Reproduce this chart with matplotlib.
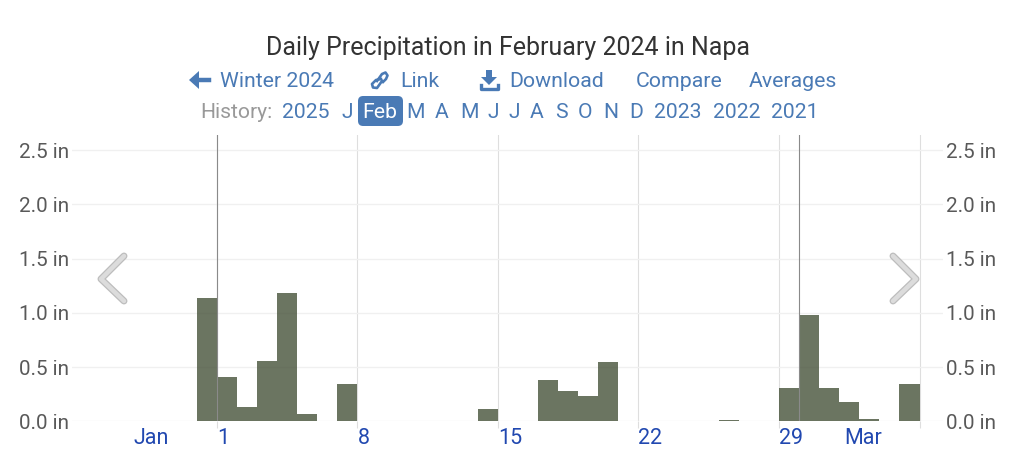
import matplotlib
matplotlib.use('Agg')
import matplotlib.pyplot as plt
from matplotlib.lines import Line2D
from matplotlib.patches import FancyBboxPatch, Polygon

plt.rcParams['font.family'] = ['Roboto', 'DejaVu Sans']

W, H = 1024, 467

# bar start (in day ticks) and precipitation in inches
starts = [0, 1, 2, 3, 4, 5, 7, 14, 17, 18, 19, 20, 26, 29, 30, 31, 32, 33, 35]
precip = [1.14, 0.41, 0.13, 0.56, 1.18, 0.07, 0.34, 0.11, 0.38, 0.28, 0.23, 0.55,
          0.01, 0.31, 0.98, 0.31, 0.18, 0.02, 0.34]

day_ticks = [1, 8, 15, 22, 29, 36]
day_labels = ['1', '8', '15', '22', '29', '']
month_names = ['Jan', 'Mar']
month_pos = [-2.3, 33.2]
month_starts = [1, 30]
y_ticks = [0.0, 0.5, 1.0, 1.5, 2.0, 2.5]
y_labels = ['0.0 in', '0.5 in', '1.0 in', '1.5 in', '2.0 in', '2.5 in']

history = ['2025', 'J', 'Feb', 'M', 'A', 'M', 'J', 'J', 'A', 'S', 'O', 'N', 'D', '2023', '2022', '2021']
history_x = [306, 347, 380, 416, 442, 469, 493, 514, 537, 561, 585, 611, 636, 678, 737, 795]
links = ['Winter 2024', 'Link', 'Download', 'Compare', 'Averages']
links_x = [220, 400, 509, 636, 749]

blue = '#4a7ab5'
txt_gray = '#595959'


def px(x, y):
    return x / W, 1 - y / H


fig = plt.figure(figsize=(W / 100, H / 100), dpi=100)
ax = fig.add_axes([72 / W, 1 - 421.3 / H, 871 / W, 286.3 / H])
ax.set_xlim(-6.22, 37.17)
ax.set_ylim(0, 2.639)

ax.bar(starts, precip, width=1, align='edge', color='#465239', alpha=0.8, linewidth=0, zorder=3)

ax.set_yticks(y_ticks)
ax.set_yticklabels(y_labels)
ax.set_xticks(day_ticks)
ax.set_xticklabels(day_labels, ha='left')
ax.grid(axis='y', color='#f0f0f0', linewidth=1, zorder=0)
ax.grid(axis='x', color='#dedede', linewidth=0.8, zorder=1)
ax.tick_params(axis='y', length=0, pad=2, labelsize=14.9, labelcolor=txt_gray)
ax.tick_params(axis='x', length=5, width=0.8, color='#dedede', pad=0, labelsize=15.5, labelcolor='#2148b0')
for side in ax.spines:
    ax.spines[side].set_visible(False)

# second y axis labels on the right
ax2 = ax.twinx()
ax2.set_ylim(ax.get_ylim())
ax2.set_yticks(y_ticks)
ax2.set_yticklabels(y_labels)
ax2.tick_params(axis='y', length=0, pad=2, labelsize=14.9, labelcolor=txt_gray)
for side in ax2.spines:
    ax2.spines[side].set_visible(False)

# month boundaries are darker
for m in month_starts:
    ax.axvline(m, color='#8a8a8a', linewidth=0.8, zorder=4)

for name, m in zip(month_names, month_pos):
    ax.annotate(name, (m, 0), xytext=(0, -5), textcoords='offset points', color='#2148b0',
                fontsize=15.5, ha='center', va='top')

# header text
fig.text(*px(508.5, 48), 'Daily Precipitation in February 2024 in Napa', color='#333333',
         fontsize=18, ha='center', va='center')
for s, x in zip(links, links_x):
    fig.text(*px(x, 81.5), s, color=blue, fontsize=15.3, ha='left', va='center')

fig.text(*px(272, 112), 'History:', color='#999999', fontsize=15.2, ha='right', va='center')
fig.add_artist(FancyBboxPatch(px(358, 126), 45 / W, 30 / H, boxstyle='round,pad=0,rounding_size=0.005',
                              transform=fig.transFigure, facecolor=blue, edgecolor='none',
                              mutation_aspect=W / H))
for s, x in zip(history, history_x):
    col = 'white' if s == 'Feb' else blue
    fig.text(*px(x, 112), s, color=col, fontsize=15.2, ha='center', va='center')

# back arrow
fig.add_artist(Line2D(*zip(px(195, 80), px(209, 80)), color=blue, lw=3.2, transform=fig.transFigure))
fig.add_artist(Polygon([px(189, 80), px(199, 71), px(199, 89)], transform=fig.transFigure, color=blue, lw=0))
# link icon
fig.add_artist(Line2D(*zip(px(377, 81), px(382, 74), px(385.5, 72.5), px(387.5, 75.5), px(386, 79), px(383, 82)),
                      color=blue, lw=1.9, transform=fig.transFigure))
fig.add_artist(Line2D(*zip(px(381, 79), px(376, 80), px(372, 84), px(373, 87.5), px(377, 88), px(382, 81)),
                      color=blue, lw=1.9, transform=fig.transFigure))
# download icon
fig.add_artist(Polygon([px(486, 70), px(492, 70), px(492, 77), px(497, 77), px(489, 85), px(481, 77), px(486, 77)],
                       transform=fig.transFigure, color=blue, lw=0))
fig.add_artist(Line2D(*zip(px(481, 85), px(481, 89), px(498, 89), px(498, 85)), color=blue, lw=2.4,
                      transform=fig.transFigure))

# chevrons
for pts in ([(124, 256), (101, 279), (124, 301)], [(893, 256), (916, 279), (893, 301)]):
    xy = [px(*p) for p in pts]
    fig.add_artist(Line2D(*zip(*xy), color='#bdbdbd', lw=5, solid_capstyle='round', solid_joinstyle='round',
                          transform=fig.transFigure))
    fig.add_artist(Line2D(*zip(*xy), color='#dcdcdc', lw=3.2, solid_capstyle='round', solid_joinstyle='round',
                          transform=fig.transFigure))

fig.savefig('out.png', dpi=100)
